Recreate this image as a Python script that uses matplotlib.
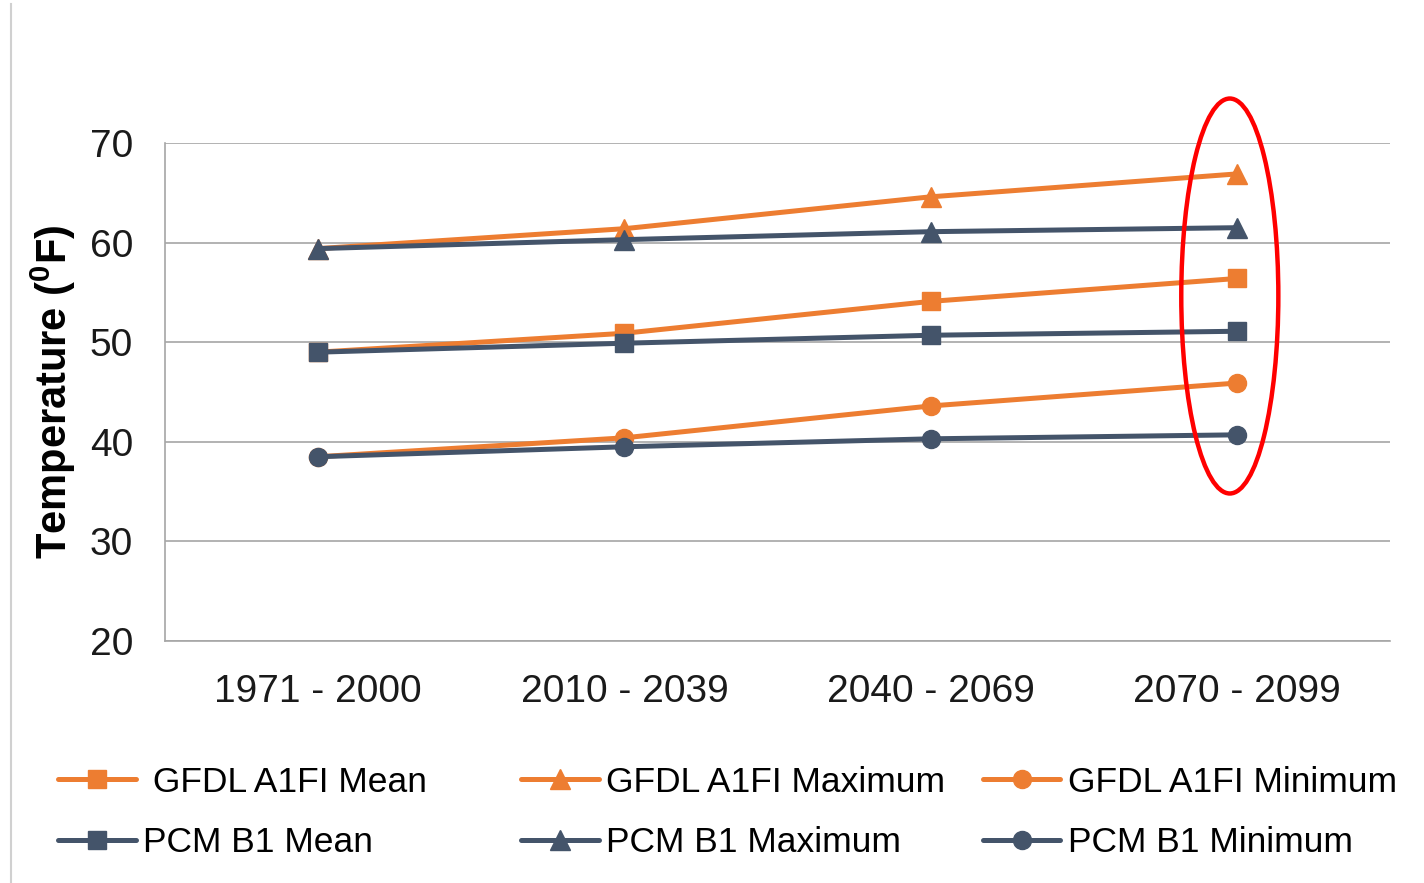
import matplotlib
matplotlib.use('Agg')
import matplotlib.pyplot as plt
from matplotlib.patches import Ellipse
from matplotlib.lines import Line2D

plt.rcParams['font.family'] = ['Liberation Sans', 'DejaVu Sans']
plt.rcParams['mathtext.fontset'] = 'custom'
plt.rcParams['mathtext.rm'] = 'Liberation Sans'
plt.rcParams['mathtext.bf'] = 'Liberation Sans:bold'

# Dados
periodos = ['1971 - 2000', '2010 - 2039', '2040 - 2069', '2070 - 2099']
gfdl_media = [49.0, 50.9, 54.1, 56.4]
gfdl_max = [59.4, 61.4, 64.6, 66.9]
gfdl_min = [38.5, 40.4, 43.6, 45.9]
pcm_media = [49.0, 49.9, 50.7, 51.1]
pcm_max = [59.4, 60.3, 61.1, 61.5]
pcm_min = [38.5, 39.5, 40.3, 40.7]

laranja = '#ED7D31'
azul = '#44546A'

fig = plt.figure(figsize=(14.24, 8.83), dpi=100)
ax = fig.add_axes([0.1159, 0.2741, 0.8602, 0.5639])

x = list(range(len(periodos)))
estilo = dict(lw=3.6, solid_capstyle='round')
l1, = ax.plot(x, gfdl_media, color=laranja, marker='s', ms=13, label=' GFDL A1FI Mean', **estilo)
l2, = ax.plot(x, gfdl_max, color=laranja, marker='^', ms=15, label='GFDL A1FI Maximum', **estilo)
l3, = ax.plot(x, gfdl_min, color=laranja, marker='o', ms=13, label='GFDL A1FI Minimum', **estilo)
l4, = ax.plot(x, pcm_media, color=azul, marker='s', ms=13, label='PCM B1 Mean', **estilo)
l5, = ax.plot(x, pcm_max, color=azul, marker='^', ms=15, label='PCM B1 Maximum', **estilo)
l6, = ax.plot(x, pcm_min, color=azul, marker='o', ms=13, label='PCM B1 Minimum', **estilo)

ax.set_xlim(-0.5, 3.5)
ax.set_ylim(20, 70)
ax.set_yticks([20, 30, 40, 50, 60, 70])
ax.set_xticks(x)
ax.set_xticklabels(periodos)
ax.tick_params(axis='both', length=0, labelsize=28, colors='#1A1A1A')
ax.tick_params(axis='x', pad=24)
ax.tick_params(axis='y', pad=23)
ax.yaxis.grid(True, color='#A6A6A6', lw=1.2)
ax.set_axisbelow(True)
for s in ['top', 'right']:
    ax.spines[s].set_visible(False)
for s in ['left', 'bottom']:
    ax.spines[s].set_color('#A6A6A6')
    ax.spines[s].set_linewidth(1.2)

ax.set_ylabel(r'Temperature ($\mathbf{^{0}}$F)', fontsize=30, fontweight='bold')
ax.yaxis.set_label_coords(-0.071, 0.5)

# elipse vermelha destacando o último período
ax.add_patch(Ellipse((2.977, 54.64), 0.317, 39.66, fill=False, edgecolor='#FF0000',
                     lw=3.2, clip_on=False, zorder=5))

# linha cinza à esquerda (borda do slide)
fig.add_artist(Line2D([0.0075, 0.0075], [0.0, 0.995], color='#D0D0D0', lw=1.5))

# legenda em três colunas separadas
colunas = [([l1, l4], 0.041), ([l2, l5], 0.366), ([l3, l6], 0.690)]
for handles, xpos in colunas:
    leg = fig.legend(handles=handles, loc='upper left', bbox_to_anchor=(xpos, 0.133),
                     frameon=False, fontsize=25.5, handlelength=2.2, handletextpad=0.2,
                     labelspacing=0.78, borderaxespad=0, borderpad=0)

fig.savefig('out.png', dpi=100)
